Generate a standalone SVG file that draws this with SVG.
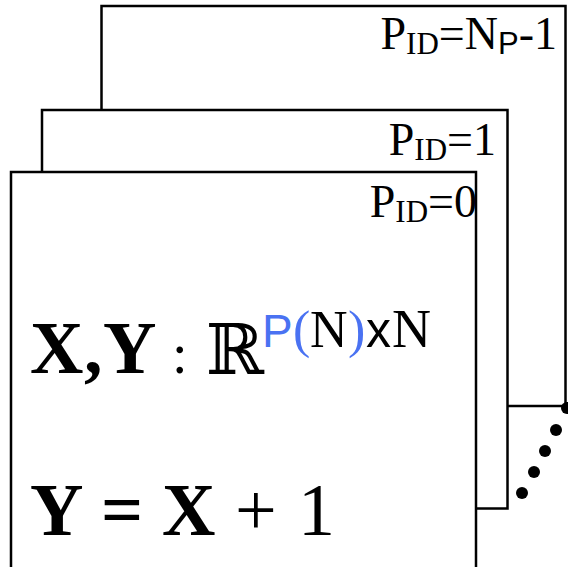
<svg xmlns="http://www.w3.org/2000/svg" width="568" height="567" viewBox="0 0 568 567">
<style>
.frame{fill:#fff;stroke:#000;stroke-width:2.5}
.lbl{font-family:"Liberation Serif","Times New Roman",serif;font-size:46px;fill:#000}
.sub{font-size:31px}
.big{font-family:"Liberation Serif","Times New Roman",serif;font-size:74px;fill:#000}
.b{font-weight:bold}
.sup{font-family:"Liberation Serif","Times New Roman",serif;font-size:52px;fill:#000}
.sans{font-family:"Liberation Sans",Arial,sans-serif}
.blue{fill:#4a72f2}
.dot{fill:#000}
</style>
<rect width="568" height="567" fill="#fff"/>
<g id="proc-last">
<rect class="frame" x="101.5" y="6" width="464" height="400"/>
<text class="lbl" x="557" y="49" text-anchor="end">P<tspan class="sub" dy="5">ID</tspan><tspan dy="-5">=N</tspan><tspan class="sub sans" dy="5">P</tspan><tspan dy="-5">-1</tspan></text>
</g>
<g id="proc-1">
<rect class="frame" x="42" y="110" width="465.5" height="398.5"/>
<text class="lbl" x="496" y="155" text-anchor="end">P<tspan class="sub" dy="5">ID</tspan><tspan dy="-5">=1</tspan></text>
</g>
<g id="proc-0">
<rect class="frame" x="11" y="172" width="465" height="400"/>
<text class="lbl" x="477" y="217" text-anchor="end">P<tspan class="sub" dy="5">ID</tspan><tspan dy="-5">=0</tspan></text>
<g id="decl">
<text class="big b" x="30" y="373">X<tspan x="84">,</tspan><tspan x="103">Y</tspan></text>
<text class="big" x="172" y="373" style="font-size:56px">:</text>
<text x="206" y="374" style="font-family:'DejaVu Serif',serif;font-size:70px;fill:#000">ℝ</text>
<text class="sup" x="262" y="347"><tspan class="sans blue" style="font-size:46px">P</tspan><tspan class="blue" x="293">(</tspan><tspan x="310">N</tspan><tspan class="blue" x="348">)</tspan><tspan class="sans" x="366" style="font-size:50px">x</tspan><tspan x="392" style="font-size:54px">N</tspan></text>
</g>
<g id="eq">
<text class="big b" x="30" y="535">Y</text>
<text class="big b" x="101" y="535">=</text>
<text class="big b" x="162" y="535">X</text>
<text class="big" x="235" y="535">+</text>
<text class="big" x="298" y="535">1</text>
</g>
</g>
<g id="connectors">
<circle class="dot" cx="567" cy="408" r="6"/>
<circle class="dot" cx="556" cy="430" r="6"/>
<circle class="dot" cx="545" cy="451" r="6"/>
<circle class="dot" cx="534" cy="472" r="6"/>
<circle class="dot" cx="522" cy="493" r="6"/>
</g>
</svg>
